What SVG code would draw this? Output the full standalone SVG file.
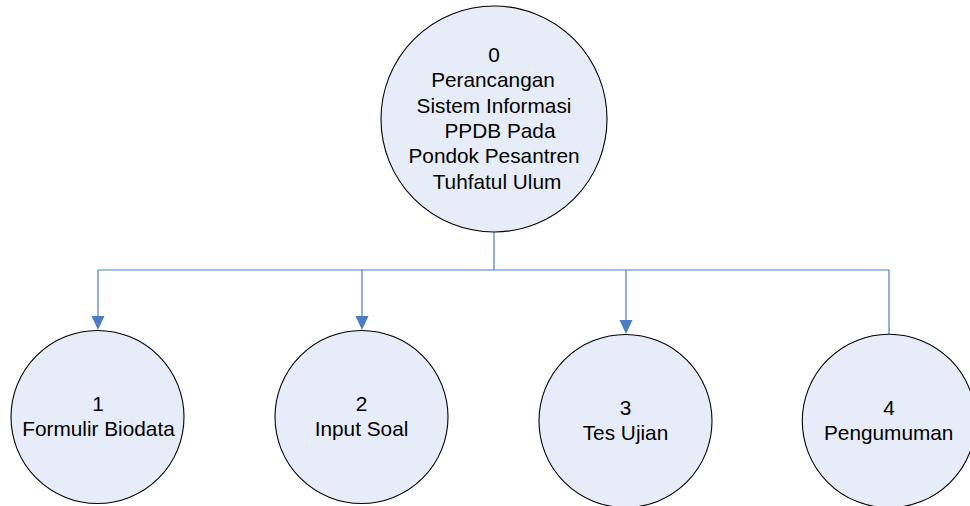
<svg xmlns="http://www.w3.org/2000/svg" width="970" height="506" viewBox="0 0 970 506">
<style>
.node{fill:#E7EDF8;stroke:#000;stroke-width:1.1}
.lbl{font-family:"Liberation Sans",Arial,sans-serif;font-size:20.8px;fill:#000;text-anchor:middle}
.conn{fill:none;stroke:#4A7DC6;stroke-width:1.2}
</style>
<defs>
<marker id="arr" viewBox="0 0 13 14" refX="6.5" refY="14" markerWidth="13" markerHeight="14" markerUnits="userSpaceOnUse" orient="auto-start-reverse">
<path d="M0,0 L13,0 L6.5,14 Z" fill="#4A7DC6"/>
</marker>
</defs>
<rect width="970" height="506" fill="#fff"/>
<g id="connectors">
<path class="conn" d="M494,232 V270"/>
<path class="conn" d="M98,270 H889"/>
<path class="conn" d="M98,270 V316" />
<path d="M91.5,316 L104.5,316 L98,330 Z" fill="#4A7DC6"/>
<path class="conn" d="M362,270 V316"/>
<path d="M355.5,316 L368.5,316 L362,330 Z" fill="#4A7DC6"/>
<path class="conn" d="M626,270 V320"/>
<path d="M619.5,320 L632.5,320 L626,334 Z" fill="#4A7DC6"/>
<path class="conn" d="M889,270 V334.5"/>
</g>
<g id="node0">
<circle class="node" cx="494" cy="119" r="113"/>
<text class="lbl" x="494" y="62">0</text>
<text class="lbl" x="493" y="87.3">Perancangan</text>
<text class="lbl" x="494" y="112.6">Sistem Informasi</text>
<text class="lbl" x="500" y="138">PPDB Pada</text>
<text class="lbl" x="494" y="163.3">Pondok Pesantren</text>
<text class="lbl" x="497" y="188.6">Tuhfatul Ulum</text>
</g>
<g id="node1">
<circle class="node" cx="97.5" cy="417" r="86.5"/>
<text class="lbl" x="98" y="410.5">1</text>
<text class="lbl" x="98.5" y="436">Formulir Biodata</text>
</g>
<g id="node2">
<circle class="node" cx="361.5" cy="417" r="86.5"/>
<text class="lbl" x="361.5" y="410.5">2</text>
<text class="lbl" x="361.5" y="436">Input Soal</text>
</g>
<g id="node3">
<circle class="node" cx="625.5" cy="421" r="86.5"/>
<text class="lbl" x="625.5" y="414.5">3</text>
<text class="lbl" x="625.5" y="440">Tes Ujian</text>
</g>
<g id="node4">
<circle class="node" cx="889" cy="421" r="86.7"/>
<text class="lbl" x="889" y="414.5">4</text>
<text class="lbl" x="888.7" y="440">Pengumuman</text>
</g>
</svg>
